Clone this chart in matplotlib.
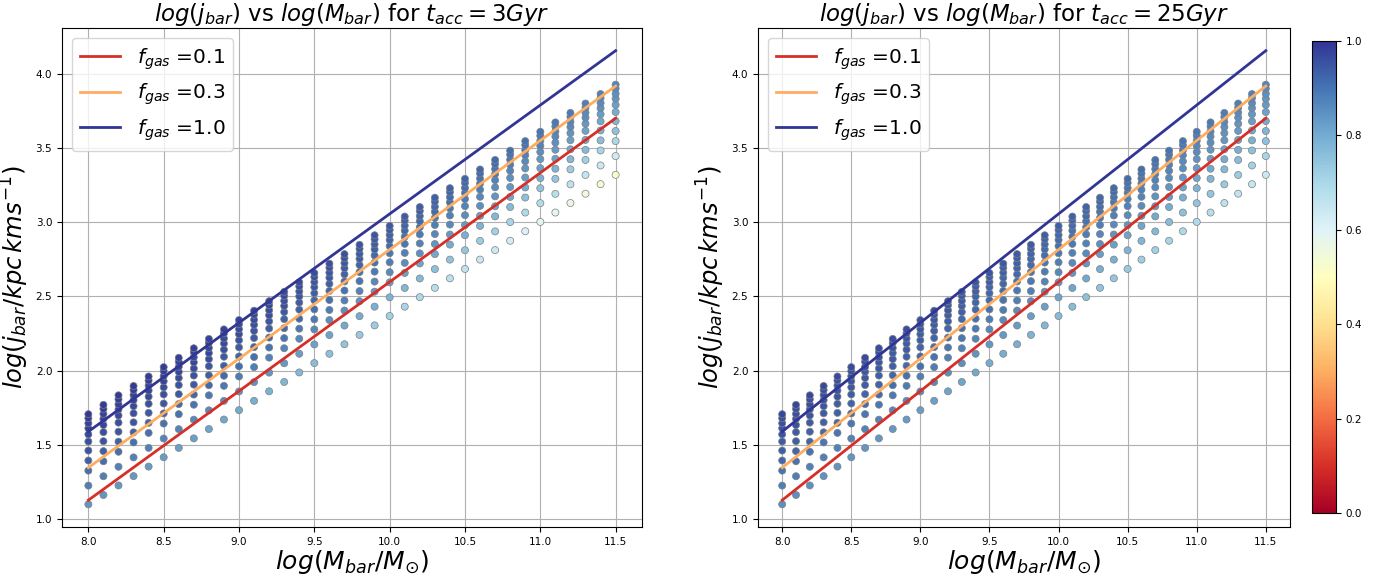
import numpy as np
import matplotlib
matplotlib.use("Agg")
import matplotlib.pyplot as plt
from matplotlib import cm, colors

# ---- data ----
log_mbar = [8.0, 8.1, 8.2, 8.3, 8.4, 8.5, 8.6, 8.7, 8.8, 8.9,
            9.0, 9.1, 9.2, 9.3, 9.4, 9.5, 9.6, 9.7, 9.8, 9.9,
            10.0, 10.1, 10.2, 10.3, 10.4, 10.5, 10.6, 10.7, 10.8, 10.9,
            11.0, 11.1, 11.2, 11.3, 11.4, 11.5]

# lowest point of each mass column
column_base = [1.100, 1.163, 1.227, 1.290, 1.354, 1.417, 1.480, 1.544, 1.607, 1.671,
               1.734, 1.797, 1.861, 1.924, 1.988, 2.051, 2.114, 2.178, 2.241, 2.305,
               2.368, 2.431, 2.495, 2.558, 2.622, 2.685, 2.748, 2.812, 2.875, 2.939,
               3.002, 3.065, 3.129, 3.192, 3.256, 3.319]

# vertical offsets of the points within a column (same for each column)
row_offsets = [0.000, 0.126, 0.227, 0.295, 0.362, 0.423, 0.471, 0.512, 0.546, 0.580, 0.607]

# colour (f_gas) of each row at the low-mass and high-mass ends
fgas_lo_3gyr = [0.84, 0.88, 0.91, 0.93, 0.95, 0.96, 0.97, 0.98, 0.98, 0.99, 0.99]
fgas_hi_3gyr = [0.52, 0.63, 0.70, 0.75, 0.78, 0.80, 0.82, 0.84, 0.85, 0.86, 0.87]
fgas_lo_25gyr = [0.85, 0.88, 0.90, 0.92, 0.93, 0.94, 0.95, 0.95, 0.96, 0.96, 0.97]
fgas_hi_25gyr = [0.64, 0.71, 0.75, 0.78, 0.80, 0.82, 0.83, 0.84, 0.85, 0.86, 0.87]
# how far along each column is between the low- and high-mass colours
colour_progress = [0.00, 0.00, 0.01, 0.02, 0.03, 0.04, 0.05, 0.06, 0.08, 0.10,
                   0.12, 0.14, 0.16, 0.19, 0.21, 0.24, 0.26, 0.29, 0.32, 0.35,
                   0.39, 0.42, 0.45, 0.49, 0.53, 0.56, 0.60, 0.64, 0.68, 0.73,
                   0.77, 0.81, 0.86, 0.90, 0.95, 1.00]

# model lines (end points)
line_mass = [8.0, 11.5]
line_fgas = [0.1, 0.3, 1.0]
line_j = {0.1: [1.128, 3.700], 0.3: [1.347, 3.917], 1.0: [1.590, 4.155]}

titles = [r'$log(j_{bar})$ vs $log(M_{bar})$ for $t_{acc} = 3Gyr$',
          r'$log(j_{bar})$ vs $log(M_{bar})$ for $t_{acc} = 25Gyr$']

# ---- figure ----
W, H = 1384, 577
fig = plt.figure(figsize=(W / 100, H / 100), dpi=100)
cmap = plt.get_cmap('RdYlBu')
norm = colors.Normalize(vmin=0, vmax=1)

ax_l = fig.add_axes([62 / W, 50 / H, 580 / W, 499 / H])
ax_r = fig.add_axes([758 / W, 50 / H, 532 / W, 499 / H])
cax = fig.add_axes([1312 / W, 64 / H, 24 / W, 472 / H])

mass = np.array(log_mbar)
base = np.array(column_base)
offs = np.array(row_offsets)
prog = np.array(colour_progress)

panels = [(ax_l, fgas_lo_3gyr, fgas_hi_3gyr, titles[0]),
          (ax_r, fgas_lo_25gyr, fgas_hi_25gyr, titles[1])]

for ax, lo, hi, title in panels:
    lo = np.array(lo)
    hi = np.array(hi)
    xs = np.repeat(mass[None, :], len(offs), axis=0)
    ys = base[None, :] + offs[:, None]
    cs = lo[:, None] + (hi - lo)[:, None] * prog[None, :]
    ax.scatter(xs.ravel(), ys.ravel(), c=cs.ravel(), cmap=cmap, norm=norm,
               s=26, edgecolors='grey', linewidths=0.5, zorder=2)
    for fg in line_fgas:
        ax.plot(line_mass, line_j[fg], color=cmap(norm(fg)), lw=2,
                label=r'$f_{gas}$ =' + f'{fg:.1f}', zorder=3)
    ax.grid(True, color='#b0b0b0', lw=0.8, zorder=0)
    ax.set_axisbelow(True)
    ax.set_title(title, fontsize=16.5, pad=4)
    ax.set_xlabel(r'$log(M_{bar}/M_{\odot})$', fontsize=18, labelpad=1)
    ax.set_ylabel(r'$log(j_{bar}/kpc\,kms^{-1})$', fontsize=17.5, labelpad=3)
    ax.tick_params(labelsize=7.5)
    ax.set_xticks([8.0, 8.5, 9.0, 9.5, 10.0, 10.5, 11.0, 11.5])
    ax.set_yticks([1.0, 1.5, 2.0, 2.5, 3.0, 3.5, 4.0])
    ax.legend(loc='upper left', fontsize=14.5)

cb = fig.colorbar(cm.ScalarMappable(norm=norm, cmap=cmap), cax=cax)
cb.ax.tick_params(labelsize=7.5)
cb.set_ticks([0.0, 0.2, 0.4, 0.6, 0.8, 1.0])

fig.savefig('out.png', dpi=100)
